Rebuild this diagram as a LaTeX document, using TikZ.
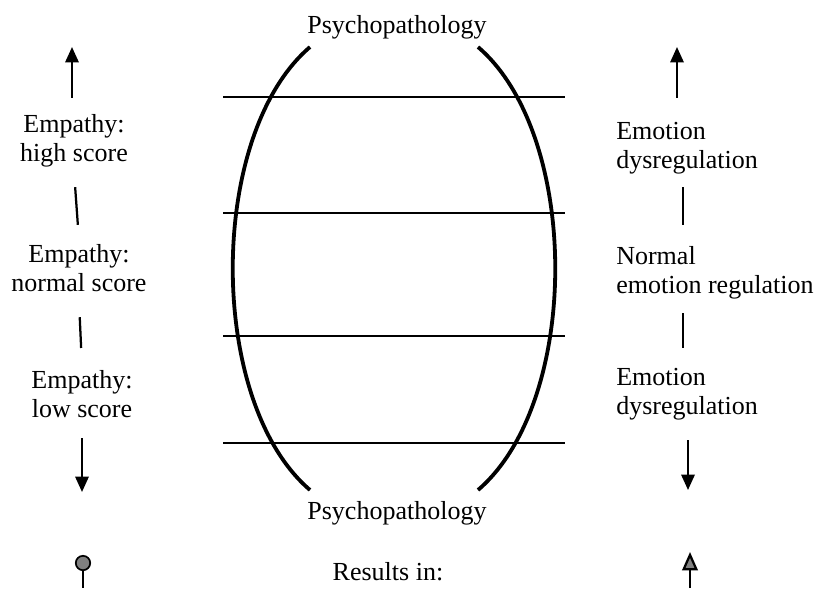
\documentclass[tikz,border=0pt]{standalone}
\usepackage{fontspec}
\setmainfont{Liberation Serif}
\usetikzlibrary{arrows.meta}

\begin{document}
\begin{tikzpicture}[x=0.025cm, y=-0.025cm,
  every node/.style={font=\fontsize{18.5}{21.3}\selectfont, inner sep=0pt},
  arr/.style={-{Triangle[length=11pt, width=9.5pt]}, line width=1.6pt},
  bar/.style={line width=1.6pt},
  level/.style={line width=2pt},
  curve/.style={line width=2.7pt}]
\useasboundingbox (0,0) rectangle (816,588);

\node[anchor=base] (psytop) at (397,33) {Psychopathology};
\node[anchor=base] (psybot) at (397,519) {Psychopathology};
\node[anchor=base] (results) at (388,580) {Results in:};

% levels and the two arcs
\foreach \y in {97,213,336,443}
  \draw[level] (223,\y) -- (565,\y);
\draw[curve] (310,47) .. controls (207,135) and (207,402) .. (310,490);
\draw[curve] (478,47) .. controls (581,135) and (581,402) .. (478,490);

% empathy column
\node (high) at (74,141) {\begin{tabular}{c}
Empathy: \\
high score
\end{tabular}};
\node (normal) at (79,271) {\begin{tabular}{c}
Empathy: \\
normal score
\end{tabular}};
\node (low) at (82,397) {\begin{tabular}{c}
Empathy: \\
low score
\end{tabular}};

\coordinate (upL) at (72,47);
\coordinate (downL) at (82,492);
\draw[arr, shorten <=0.33cm] (high.north -| upL) -- (upL);
\draw[bar, shorten <=0.4cm, shorten >=0.4cm] (high.south) -- (normal.north);
\draw[bar, shorten <=0.4cm, shorten >=0.47cm] (normal.south) -- (low.north);
\draw[arr, shorten <=0.28cm] (low.south -| downL) -- (downL);

% emotion column
\node[anchor=west] (emo1) at (616,148) {\begin{tabular}{@{}l@{}}
Emotion \\
dysregulation
\end{tabular}};
\node[anchor=west] (norm) at (616,273) {\begin{tabular}{@{}l@{}}
Normal \\
emotion regulation
\end{tabular}};
\node[anchor=west] (emo2) at (616,394) {\begin{tabular}{@{}l@{}}
Emotion \\
dysregulation
\end{tabular}};

\coordinate (upR) at (677,47);
\coordinate (rcol) at (683,0);
\coordinate (downR) at (688,490);
\draw[arr, shorten <=0.5cm] (emo1.north -| upR) -- (upR);
\draw[bar, shorten <=0.23cm, shorten >=0.45cm] (emo1.south -| rcol) -- (norm.north -| rcol);
\draw[bar, shorten <=0.25cm, shorten >=0.4cm] (norm.south -| rcol) -- (emo2.north -| rcol);
\draw[arr, shorten <=0.4cm] (emo2.south -| downR) -- (downR);

% bottom row
\node[circle, draw, fill=gray, line width=1.2pt, minimum size=0.36cm] (dot) at (83,563) {};
\coordinate (botL) at (83,588);
\draw[bar] (dot) -- (botL);
\coordinate (botR) at (690,588);
\coordinate (tipR) at (690,552);
\draw[line width=1.6pt, -{Triangle[length=13pt, width=11pt, fill=gray]}] (botR) -- (tipR);
\end{tikzpicture}
\end{document}
